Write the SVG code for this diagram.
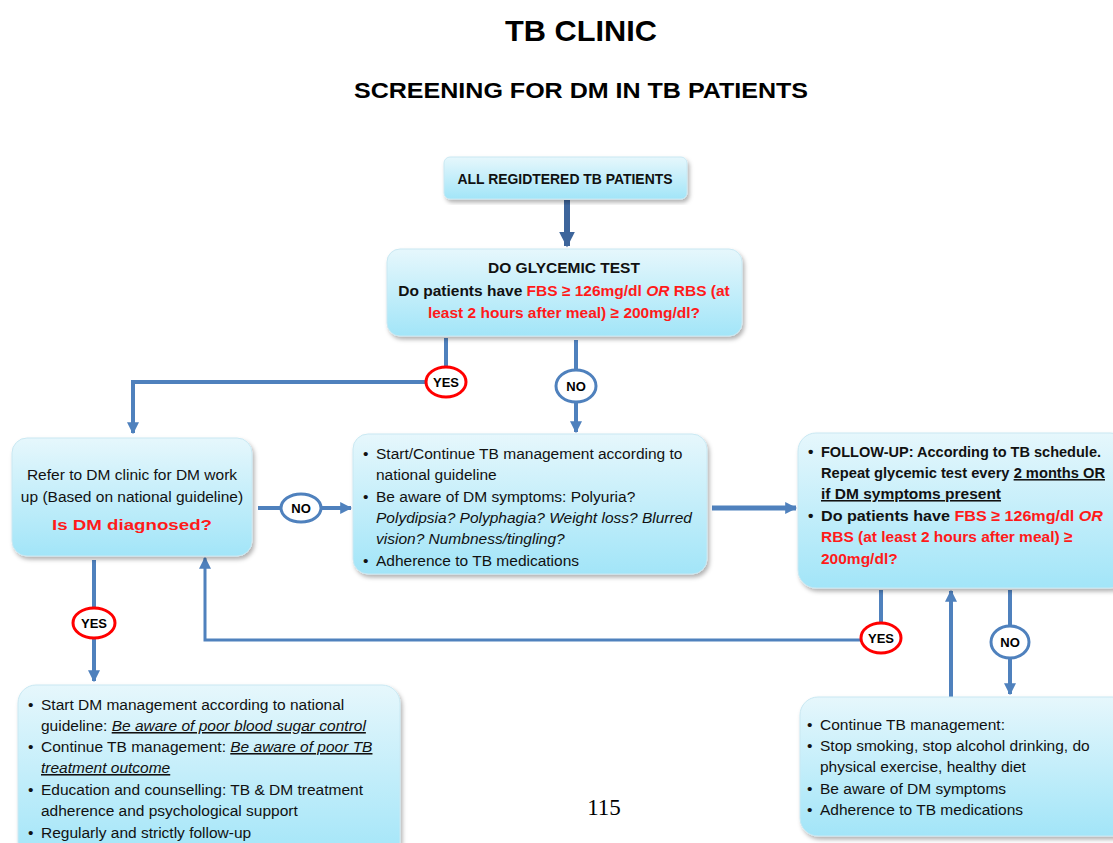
<svg xmlns="http://www.w3.org/2000/svg" width="1113" height="843" viewBox="0 0 1113 843">
  <defs>
    <linearGradient id="boxFill" x1="0" y1="0" x2="0" y2="1">
      <stop offset="0" stop-color="#e6f7fc"/>
      <stop offset="1" stop-color="#a2e5f8"/>
    </linearGradient>
    <filter id="shadow" x="-5%" y="-5%" width="112%" height="118%">
      <feDropShadow dx="2" dy="3" stdDeviation="2" flood-color="#000" flood-opacity="0.3"/>
    </filter>
    <marker id="head" viewBox="0 0 10 10" refX="9" refY="5" markerWidth="12" markerHeight="12" markerUnits="userSpaceOnUse" orient="auto">
      <path d="M0,0 L10,5 L0,10 z" fill="#4f81bd"/>
    </marker>
    <marker id="headBig" viewBox="0 0 10 10" refX="9" refY="5" markerWidth="16" markerHeight="16" markerUnits="userSpaceOnUse" orient="auto">
      <path d="M0,0 L10,5 L0,10 z" fill="#3d659b"/>
    </marker>
    <style>
      .box { fill: url(#boxFill); stroke: #c9e8f2; stroke-width: 1; filter: url(#shadow); }
      .t { font-family: "Liberation Sans", Arial, sans-serif; font-size: 15.5px; fill: #111; }
      .b { font-weight: bold; }
      .red { fill: #ff1a1a; }
      .i { font-style: italic; }
      .u { text-decoration: underline; }
      .title { font-family: "Liberation Sans", Arial, sans-serif; font-weight: bold; fill: #000; text-anchor: middle; }
      .line { fill: none; stroke: #4f81bd; stroke-width: 4; }
      .ovYes { fill: #fff; stroke: #ff0000; stroke-width: 3; }
      .ovNo { fill: #fff; stroke: #4f81bd; stroke-width: 3; }
      .lbl { font-family: "Liberation Sans", Arial, sans-serif; font-size: 13px; font-weight: bold; fill: #000; text-anchor: middle; }
    </style>
  </defs>

  <rect width="1113" height="843" fill="#fff"/>

  <!-- headings -->
  <text class="title" x="581" y="41" font-size="30" textLength="152" lengthAdjust="spacingAndGlyphs">TB CLINIC</text>
  <text class="title" x="581" y="98" font-size="22" textLength="454" lengthAdjust="spacingAndGlyphs">SCREENING FOR DM IN TB PATIENTS</text>

  <!-- connectors -->
  <g id="connectors">
    <path d="M567,200 V246" fill="none" stroke="#3d659b" stroke-width="6" marker-end="url(#headBig)"/>
    <!-- glycemic test: yes branch -->
    <path class="line" d="M446,338 V367"/>
    <path class="line" d="M426,382 H133 V433" marker-end="url(#head)"/>
    <!-- glycemic test: no branch -->
    <path class="line" d="M576,340 V370"/>
    <path class="line" d="M576,402 V432" marker-end="url(#head)"/>
    <!-- DM diagnosed: no -->
    <path class="line" d="M258,508 H281"/>
    <path class="line" d="M321,508 H351" marker-end="url(#head)"/>
    <!-- TB management to follow-up -->
    <path d="M712,508 H796" fill="none" stroke="#4f81bd" stroke-width="5" marker-end="url(#head)"/>
    <!-- DM diagnosed: yes -->
    <path class="line" d="M94,560 V608"/>
    <path class="line" d="M94,638 V681" marker-end="url(#head)"/>
    <!-- follow-up: yes, back to DM clinic -->
    <path class="line" d="M881,590 V623"/>
    <path d="M861,640 H205 V558" fill="none" stroke="#4f81bd" stroke-width="3" marker-end="url(#head)"/>
    <!-- continue management back to follow-up -->
    <path class="line" d="M951,697 V591" marker-end="url(#head)"/>
    <!-- follow-up: no -->
    <path class="line" d="M1010,590 V626"/>
    <path class="line" d="M1010,658 V694" marker-end="url(#head)"/>
  </g>

  <!-- decision labels -->
  <g id="yes1"><ellipse class="ovYes" cx="446" cy="382" rx="20" ry="15"/><text class="lbl" x="446" y="387">YES</text></g>
  <g id="no1"><ellipse class="ovNo" cx="576" cy="386" rx="20" ry="16"/><text class="lbl" x="576" y="391">NO</text></g>
  <g id="no2"><ellipse class="ovNo" cx="301" cy="508" rx="20" ry="14"/><text class="lbl" x="301" y="513">NO</text></g>
  <g id="yes2"><ellipse class="ovYes" cx="94" cy="623" rx="21" ry="15"/><text class="lbl" x="94" y="628">YES</text></g>
  <g id="yes3"><ellipse class="ovYes" cx="881" cy="638" rx="20" ry="15"/><text class="lbl" x="881" y="643">YES</text></g>
  <g id="no3"><ellipse class="ovNo" cx="1010" cy="642" rx="19" ry="16"/><text class="lbl" x="1010" y="647">NO</text></g>

  <!-- all registered patients -->
  <g id="registered">
    <rect class="box" x="444" y="157" width="243" height="42" rx="6"/>
    <text class="t b" x="565" y="184" font-size="12.5" text-anchor="middle" textLength="215" lengthAdjust="spacingAndGlyphs">ALL REGIDTERED TB PATIENTS</text>
  </g>

  <!-- glycemic test -->
  <g id="glycemic">
    <rect class="box" x="387" y="249" width="355" height="87" rx="13"/>
    <text class="t b" x="564" y="273" text-anchor="middle">DO GLYCEMIC TEST</text>
    <text class="t b" x="564" y="296" font-size="16" text-anchor="middle">Do patients have <tspan class="red">FBS ≥ 126mg/dl </tspan><tspan class="red i">OR</tspan><tspan class="red"> RBS (at</tspan></text>
    <text class="t b red" x="564" y="318" font-size="16.5" text-anchor="middle">least 2 hours after meal) ≥ 200mg/dl?</text>
  </g>

  <!-- DM clinic referral -->
  <g id="referral">
    <rect class="box" x="12" y="438" width="240" height="118" rx="15"/>
    <text class="t" x="132" y="480" text-anchor="middle">Refer to DM clinic for DM work</text>
    <text class="t" x="132" y="502" text-anchor="middle">up (Based on national guideline)</text>
    <text class="t b red" x="132" y="530" font-size="22" text-anchor="middle" textLength="160" lengthAdjust="spacingAndGlyphs">Is DM diagnosed?</text>
  </g>

  <!-- TB management -->
  <g id="tbManagement">
    <rect class="box" x="353" y="434" width="354" height="140" rx="15"/>
    <text class="t" x="363" y="459">•</text><text class="t" x="376" y="459">Start/Continue TB management according to</text>
    <text class="t" x="376" y="480">national guideline</text>
    <text class="t" x="363" y="502">•</text><text class="t" x="376" y="502">Be aware of DM symptoms: Polyuria?</text>
    <text class="t i" x="376" y="523">Polydipsia? Polyphagia? Weight loss? Blurred</text>
    <text class="t i" x="376" y="544">vision? Numbness/tingling?</text>
    <text class="t" x="363" y="566">•</text><text class="t" x="376" y="566">Adherence to TB medications</text>
  </g>

  <!-- follow-up -->
  <g id="followUp">
    <rect class="box" x="798" y="433" width="330" height="155" rx="18"/>
    <text class="t b" x="808" y="457">•</text><text class="t b" x="821" y="457" font-size="14.5" textLength="280" lengthAdjust="spacingAndGlyphs">FOLLOW-UP: According to TB schedule.</text>
    <text class="t b" x="821" y="478" font-size="14.5" textLength="284" lengthAdjust="spacingAndGlyphs">Repeat glycemic test every <tspan class="u">2 months OR</tspan></text>
    <text class="t b u" x="821" y="499" font-size="14.5">if DM symptoms present</text>
    <text class="t b" x="808" y="521">•</text><text class="t b" x="821" y="521" font-size="15" textLength="282" lengthAdjust="spacingAndGlyphs">Do patients have <tspan class="red">FBS ≥ 126mg/dl </tspan><tspan class="red i">OR</tspan></text>
    <text class="t b red" x="821" y="542" font-size="15">RBS (at least 2 hours after meal) ≥</text>
    <text class="t b red" x="821" y="564" font-size="15">200mg/dl?</text>
  </g>

  <!-- DM management -->
  <g id="dmManagement">
    <rect class="box" x="18" y="685" width="382" height="175" rx="18"/>
    <text class="t" x="28" y="710">•</text><text class="t" x="41" y="710">Start DM management according to national</text>
    <text class="t" x="41" y="731">guideline: <tspan class="i u">Be aware of poor blood sugar control</tspan></text>
    <text class="t" x="28" y="752">•</text><text class="t" x="41" y="752">Continue TB management: <tspan class="i u">Be aware of poor TB</tspan></text>
    <text class="t i u" x="41" y="773">treatment outcome</text>
    <text class="t" x="28" y="795">•</text><text class="t" x="41" y="795">Education and counselling: TB &amp; DM treatment</text>
    <text class="t" x="41" y="816">adherence and psychological support</text>
    <text class="t" x="28" y="838">•</text><text class="t" x="41" y="838">Regularly and strictly follow-up</text>
  </g>

  <!-- lifestyle -->
  <g id="lifestyle">
    <rect class="box" x="800" y="697" width="330" height="139" rx="18"/>
    <text class="t" x="807" y="730">•</text><text class="t" x="820" y="730">Continue TB management:</text>
    <text class="t" x="807" y="751">•</text><text class="t" x="820" y="751">Stop smoking, stop alcohol drinking, do</text>
    <text class="t" x="820" y="772">physical exercise, healthy diet</text>
    <text class="t" x="807" y="794">•</text><text class="t" x="820" y="794">Be aware of DM symptoms</text>
    <text class="t" x="807" y="815">•</text><text class="t" x="820" y="815">Adherence to TB medications</text>
  </g>

  <text x="604" y="815" font-family="'Liberation Serif', 'Times New Roman', serif" font-size="23" fill="#000" text-anchor="middle">115</text>
</svg>
